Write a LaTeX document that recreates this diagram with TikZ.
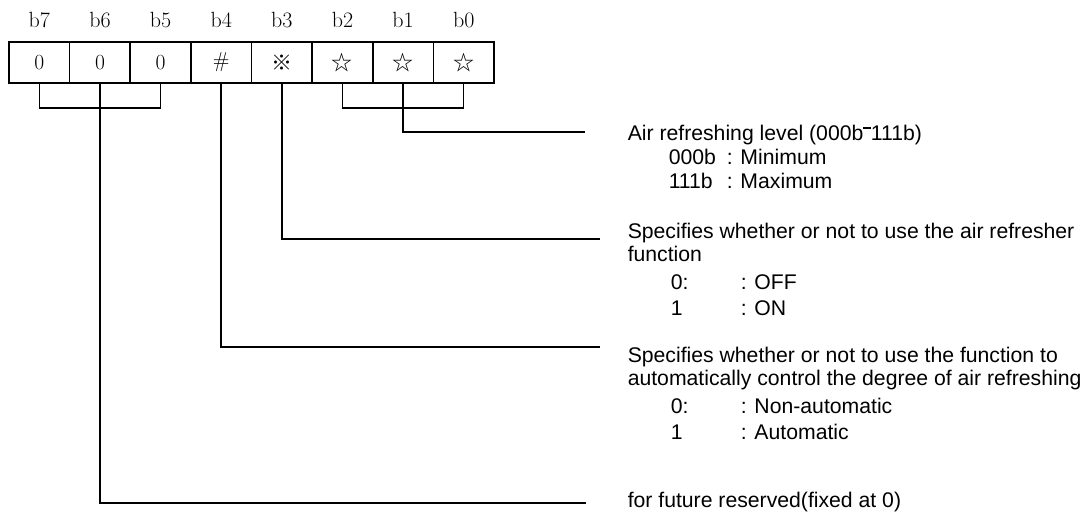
\documentclass[tikz,border=0pt]{standalone}
\usepackage{fontspec}
\newfontfamily\arialfont{Liberation Sans}
\newfontfamily\cjkjp{Noto Sans CJK JP}
\newcommand{\rbar}{\raisebox{0.5em}{\rule{0.35em}{0.11em}}}
\begin{document}
\begin{tikzpicture}[x=1pt,y=-1pt,line width=1.5pt,
  cell/.style={draw,minimum width=60.625pt,minimum height=41pt,inner sep=0pt,outer sep=0pt,font=\fontsize{21.5}{24}\selectfont},
  sym/.style={font=\cjkjp\fontsize{21}{24}\selectfont},
  bitlbl/.style={inner sep=0pt,font=\fontsize{22}{24}\selectfont},
  desc/.style={anchor=base west,inner sep=0pt,font=\arialfont\fontsize{21.2}{25}\selectfont},
  wire/.style={line width=1.5pt,line join=miter}]
\useasboundingbox (0,0) rectangle (1089,512);
% cells
\node[cell] (c7) at (39.31,62.5) {0};
\node[cell] (c6) at (99.94,62.5) {0};
\node[cell] (c5) at (160.56,62.5) {0};
\node[cell] (c4) at (221.19,62.5) {\#};
\node[cell,sym] (c3) at (281.81,62.5) {※};
\node[cell,sym] (c2) at (342.44,62.5) {☆};
\node[cell,sym] (c1) at (403.06,62.5) {☆};
\node[cell,sym] (c0) at (463.69,62.5) {☆};
% bit labels
\node[bitlbl] (l7) at (39.31,20) {b7};
\node[bitlbl] (l6) at (99.94,20) {b6};
\node[bitlbl] (l5) at (160.56,20) {b5};
\node[bitlbl] (l4) at (221.19,20) {b4};
\node[bitlbl] (l3) at (281.81,20) {b3};
\node[bitlbl] (l2) at (342.44,20) {b2};
\node[bitlbl] (l1) at (403.06,20) {b1};
\node[bitlbl] (l0) at (463.69,20) {b0};
% free ends
\coordinate (e1) at (585,132);
\coordinate (e3) at (600,239);
\coordinate (e4) at (600,347);
\coordinate (e6) at (586,503);
% wires
\draw[wire] (c7.south) |- (c5.south |- 0,108) -- (c5.south);
\draw[wire] (c6.south) |- (e6);
\draw[wire] (c4.south) |- (e4);
\draw[wire] (c3.south) |- (e3);
\draw[wire] (c2.south) |- (c0.south |- 0,108) -- (c0.south);
\draw[wire] (c1.south) |- (e1);
% descriptions
\node[desc] (t1) at (627,140) {Air refreshing level (000b\rbar111b)};
\node[desc] (t1a) at (668,164) {000b};
\node[desc] (t1b) at (726,164) {: Minimum};
\node[desc] (t1c) at (668,188) {111b};
\node[desc] (t1d) at (726,188) {: Maximum};
\node[desc] (t3) at (627,238) {Specifies whether or not to use the air refresher};
\node[desc] (t3b) at (627,261) {function};
\node[desc] (t3c) at (670,289) {0:};
\node[desc] (t3d) at (740,289) {: OFF};
\node[desc] (t3e) at (670,315) {1};
\node[desc] (t3f) at (740,315) {: ON};
\node[desc] (t4) at (627,362) {Specifies whether or not to use the function to};
\node[desc] (t4b) at (627,385) {automatically control the degree of air refreshing};
\node[desc] (t4c) at (670,413) {0:};
\node[desc] (t4d) at (740,413) {: Non-automatic};
\node[desc] (t4e) at (670,439) {1};
\node[desc] (t4f) at (740,439) {: Automatic};
\node[desc] (t6) at (627,507) {for future reserved(fixed at 0)};
\end{tikzpicture}
\end{document}
